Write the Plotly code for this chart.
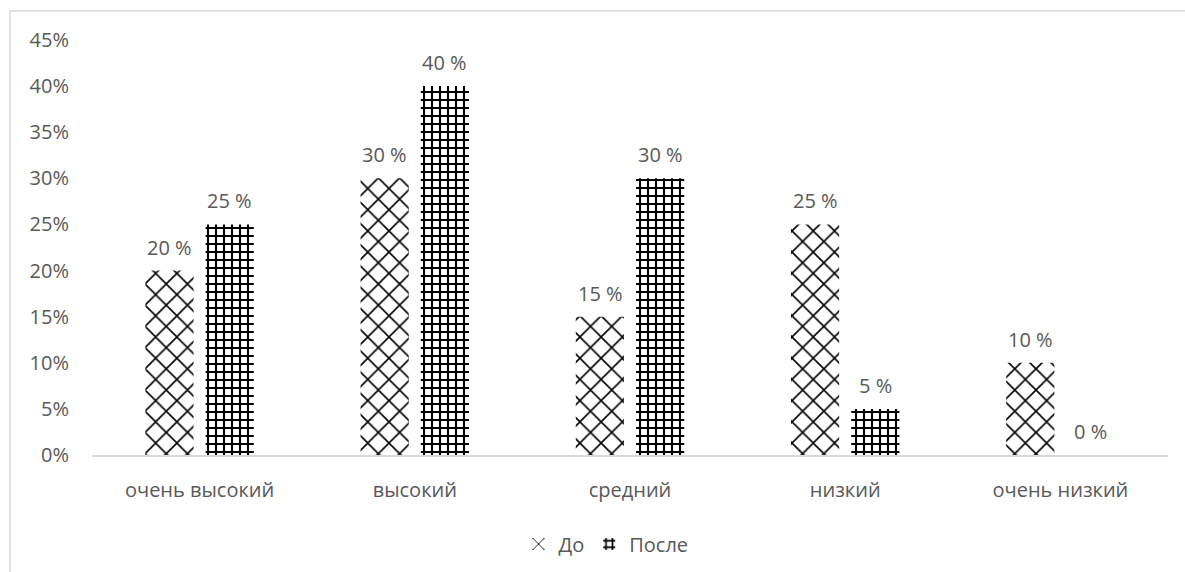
import plotly.graph_objects as go

categories = ["очень высокий", "высокий", "средний", "низкий", "очень низкий"]
before = [20, 30, 15, 25, 10]
after = [25, 40, 30, 5, 0]
y_ticks = [0, 5, 10, 15, 20, 25, 30, 35, 40, 45]

grey = "#595959"
font_family = "Open Sans, Segoe UI, sans-serif"
fs = 20

fig = go.Figure()
fig.add_trace(go.Bar(
    name="До", x=categories, y=before,
    marker=dict(color="white", line=dict(width=0),
                pattern=dict(shape="x", fgcolor="black", bgcolor="white",
                             fgopacity=1, size=15, solidity=0.2)),
))
fig.add_trace(go.Bar(
    name="После", x=categories, y=after,
    marker=dict(color="white", line=dict(width=0),
                pattern=dict(shape="+", fgcolor="black", bgcolor="white",
                             fgopacity=1, size=8, solidity=0.45)),
))

# value labels above each bar
annotations = []
for series, shift in ((before, -30), (after, 30)):
    for cat, v in zip(categories, series):
        annotations.append(dict(
            x=cat, y=v, xref="x", yref="y", text=f"{v} %", showarrow=False,
            xshift=shift, yshift=8, yanchor="bottom",
            font=dict(size=fs, color=grey, family=font_family),
        ))

fig.update_layout(
    width=1185, height=572,
    margin=dict(l=92, r=17, t=40, b=117, autoexpand=False),
    paper_bgcolor="white", plot_bgcolor="white",
    barmode="group", bargap=0.44, bargroupgap=0.2,
    font=dict(family=font_family, color=grey, size=fs),
    showlegend=True,
    legend=dict(orientation="h", x=606 / 1185, xanchor="center",
                y=1 - 544 / 572, yanchor="middle", yref="container", xref="container",
                font=dict(size=fs, color=grey), itemwidth=30, traceorder="normal",
                tracegroupgap=0),
    xaxis=dict(showline=True, linecolor="#d9d9d9", linewidth=1.5, ticks="",
               tickfont=dict(size=fs, color=grey), showgrid=False,
               ticklabelstandoff=16, automargin=False),
    yaxis=dict(range=[0, 45], tickvals=y_ticks, ticktext=[f"{v}%" for v in y_ticks],
               showgrid=False, zeroline=False, showline=False,
               tickfont=dict(size=fs, color=grey), ticklabelstandoff=22,
               automargin=False),
    annotations=annotations,
    shapes=[dict(type="rect", xref="paper", yref="paper",
                 x0=(10 - 92) / 1076, x1=(1195 - 92) / 1076,
                 y0=(455 - 585) / 415, y1=(455 - 11) / 415,
                 line=dict(color="#d9d9d9", width=1.5), fillcolor="rgba(0,0,0,0)",
                 layer="below")],
)

fig.write_html("out.html")
